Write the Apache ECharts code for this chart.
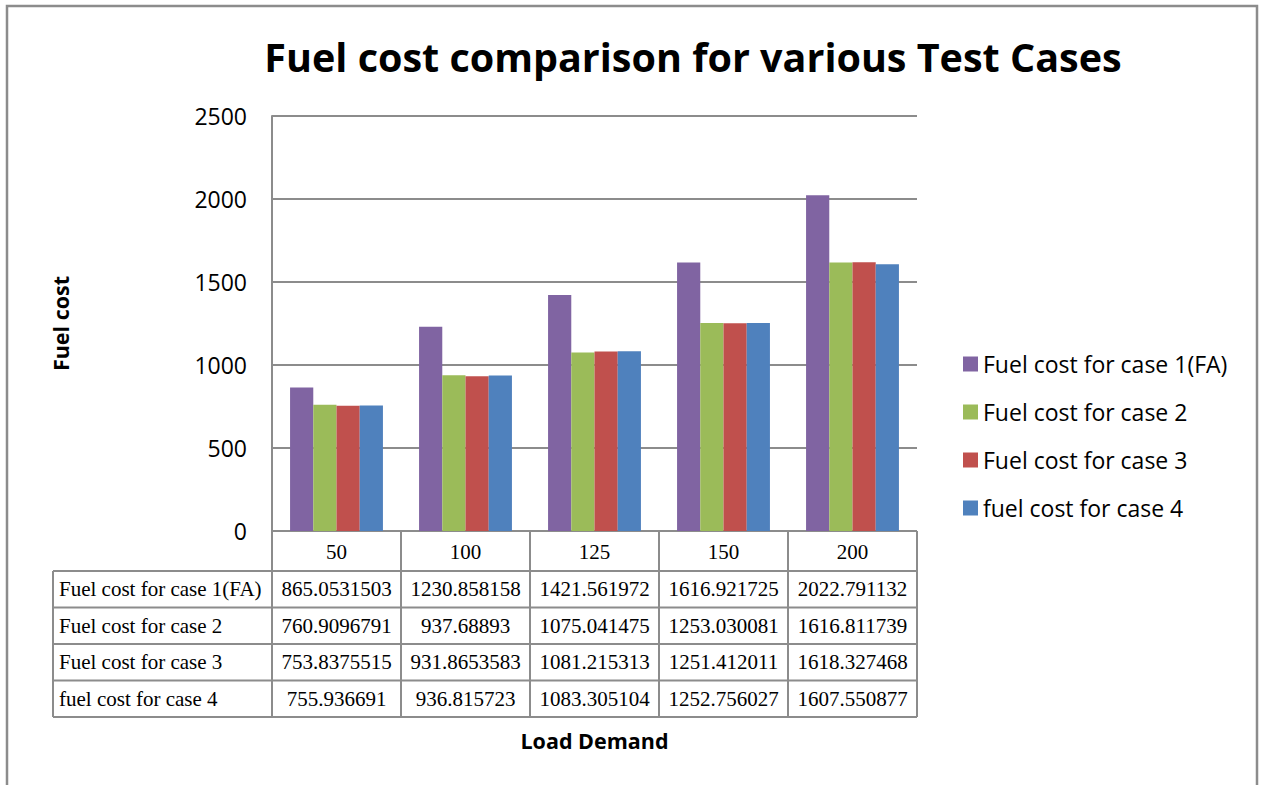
<!DOCTYPE html>
<html>
<head>
<meta charset="utf-8">
<script src="https://cdn.jsdelivr.net/npm/echarts@6/dist/echarts.min.js"></script>
<style>
  html, body { margin: 0; padding: 0; background: #fff; }
  #chart { width: 1261px; height: 785px; }
</style>
</head>
<body>
<div id="chart"></div>
<script>
var loadDemand = ['50', '100', '125', '150', '200'];
var seriesNames = ['Fuel cost for case 1(FA)', 'Fuel cost for case 2', 'Fuel cost for case 3', 'fuel cost for case 4'];
var case1 = [865.0531503, 1230.858158, 1421.561972, 1616.921725, 2022.791132];
var case2 = [760.9096791, 937.68893, 1075.041475, 1253.030081, 1616.811739];
var case3 = [753.8375515, 931.8653583, 1081.215313, 1251.412011, 1618.327468];
var case4 = [755.936691, 936.815723, 1083.305104, 1252.756027, 1607.550877];
var yTicks = [0, 500, 1000, 1500, 2000, 2500];

var colors = ['#8064A2', '#9BBB59', '#C0504D', '#4F81BD'];
var allData = [case1, case2, case3, case4];
var lineColor = '#8c8c8c';

// 绘图区
var gridL = 272, gridT = 116, gridW = 645, gridH = 415;
var headH = 40, rowH = 36.5, tableL = 53;
var tableFont = 21;

let chart = echarts.init(document.getElementById('chart'), null, {renderer: 'svg'});

let series = seriesNames.map(function (name, i) {
    return {
        name: name, type: 'bar', data: allData[i],
        barGap: '0%', barCategoryGap: '28%',
        itemStyle: {color: colors[i]}
    };
});

chart.setOption({
    animation: false,
    title: {
        text: 'Fuel cost comparison for various Test Cases',
        left: 688, top: 32, textAlign: 'center',
        textStyle: {fontFamily: 'Open Sans', fontWeight: 'bold', fontSize: 39.5, color: '#000'}
    },
    legend: {
        orient: 'vertical', left: 958, top: 347, itemGap: 24,
        itemWidth: 15, itemHeight: 15, icon: 'rect',
        textStyle: {fontFamily: 'Open Sans', fontSize: 23, lineHeight: 24, color: '#000', padding: [0, 0, 0, 0]},
        data: seriesNames
    },
    grid: {left: gridL, top: gridT, width: gridW, height: gridH},
    xAxis: {
        type: 'category', data: loadDemand,
        axisLine: {show: false}, axisTick: {show: false},
        axisLabel: {fontFamily: 'Liberation Serif', fontSize: tableFont, color: '#000', margin: 10}
    },
    yAxis: {
        type: 'value', min: yTicks[0], max: yTicks[yTicks.length - 1], interval: 500,
        name: 'Fuel cost', nameLocation: 'middle', nameGap: 201, nameRotate: 90,
        nameTextStyle: {fontFamily: 'Open Sans', fontWeight: 'bold', fontSize: 21.5, color: '#000'},
        axisLine: {show: true, lineStyle: {color: lineColor, width: 2}},
        axisTick: {show: false},
        axisLabel: {fontFamily: 'Open Sans', fontSize: 23, color: '#000', margin: 25,
            formatter: function (v) { return String(v); }},
        splitLine: {lineStyle: {color: lineColor, width: 2}}
    },
    series: series
});

// 表格
let els = [];
let bottom = gridT + gridH;
let cellW = gridW / loadDemand.length;
let tableB = bottom + headH + rowH * allData.length;
function hline(x1, x2, y) {
    els.push({type: 'line', shape: {x1: x1, y1: y, x2: x2, y2: y}, style: {stroke: lineColor, lineWidth: 2}});
}
function vline(x, y1, y2) {
    els.push({type: 'line', shape: {x1: x, y1: y1, x2: x, y2: y2}, style: {stroke: lineColor, lineWidth: 2}});
}
hline(gridL, gridL + gridW, bottom);
for (let r = 0; r <= allData.length; r++) {
    hline(tableL, gridL + gridW, bottom + headH + r * rowH);
}
vline(tableL, bottom + headH, tableB);
for (let c = 0; c <= loadDemand.length; c++) {
    vline(gridL + c * cellW, bottom, tableB);
}
allData.forEach(function (row, r) {
    let cy = bottom + headH + r * rowH + rowH / 2;
    els.push({type: 'text', x: tableL + 6, y: cy, style: {
        text: seriesNames[r], fontFamily: 'Liberation Serif', fontSize: tableFont, fill: '#000',
        verticalAlign: 'middle', align: 'left'}});
    row.forEach(function (v, c) {
        let cx = chart.convertToPixel({xAxisIndex: 0}, loadDemand[c]);
        els.push({type: 'text', x: cx, y: cy, style: {
            text: String(v), fontFamily: 'Liberation Serif', fontSize: tableFont, fill: '#000',
            verticalAlign: 'middle', align: 'center'}});
    });
});
els.push({type: 'text', x: gridL + gridW / 2, y: 740, style: {
    text: 'Load Demand', fontFamily: 'Open Sans', fontWeight: 'bold', fontSize: 21.5, fill: '#000',
    verticalAlign: 'middle', align: 'center'}});
// 外框
els.push({type: 'polyline', shape: {points: [[7, 800], [7, 6], [1257, 6], [1257, 800]]},
    style: {stroke: lineColor, lineWidth: 2.5, fill: null}});

chart.setOption({graphic: {elements: els}});
</script>
</body>
</html>
